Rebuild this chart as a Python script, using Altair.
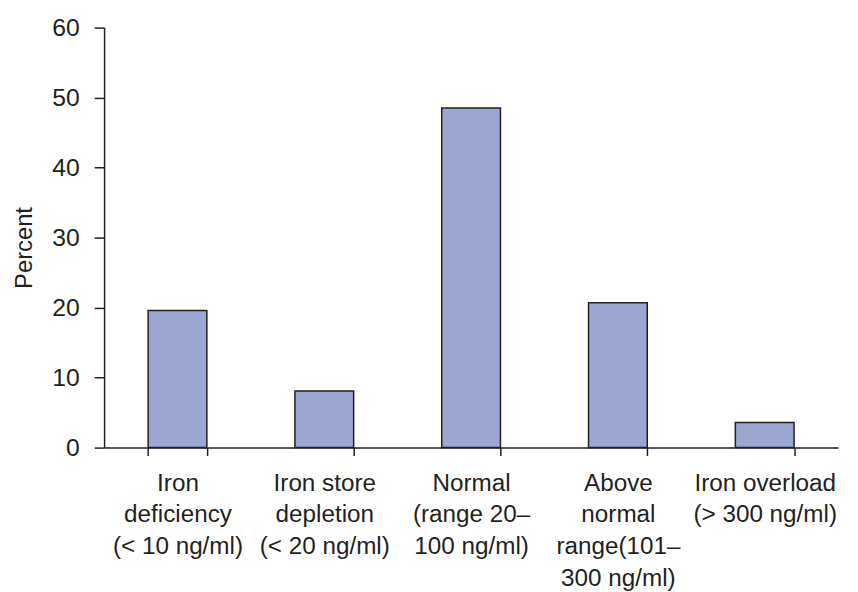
import altair as alt
import pandas as pd

categories = [
    "Iron|deficiency|(< 10 ng/ml)",
    "Iron store|depletion|(< 20 ng/ml)",
    "Normal|(range 20–|100 ng/ml)",
    "Above|normal|range(101–|300 ng/ml)",
    "Iron overload|(> 300 ng/ml)",
]
percents = [19.6, 8.1, 48.5, 20.7, 3.6]
y_ticks = [0, 10, 20, 30, 40, 50, 60]

df = pd.DataFrame({"cat": categories, "pct": percents})

FONT = "Liberation Sans"
INK = "#231F20"

chart = (
    alt.Chart(df)
    .mark_bar(fill="#9BA6D3", stroke=INK, strokeWidth=1.5)
    .encode(
        x=alt.X(
            "cat:N",
            sort=categories,
            scale=alt.Scale(paddingInner=0.6, paddingOuter=0.3),
            axis=alt.Axis(
                title=None,
                labelAngle=0,
                labelExpr="split(datum.label, '|')",
                tickBand="extent",
                tickSize=8,
                tickColor=INK,
                tickWidth=1.5,
                domainColor=INK,
                domainWidth=1.5,
                labelFont=FONT,
                labelFontSize=24.5,
                labelColor=INK,
                labelLineHeight=32,
                labelPadding=16,
                labelOverlap=False,
                labelBound=False,
                labelLimit=400,
            ),
        ),
        y=alt.Y(
            "pct:Q",
            scale=alt.Scale(domain=[0, 60], nice=False),
            axis=alt.Axis(
                title="Percent",
                values=y_ticks,
                grid=False,
                tickSize=10,
                tickColor=INK,
                tickWidth=1.5,
                domainColor=INK,
                domainWidth=1.5,
                labelFont=FONT,
                labelFontSize=25,
                labelColor=INK,
                labelPadding=15,
                titleFont=FONT,
                titleFontSize=24,
                titleFontWeight="normal",
                titleColor=INK,
                titleX=-73,
                titleY=222,
                titleBaseline="alphabetic",
                titleAngle=270,
            ),
        ),
    )
    .properties(
        width=741,
        height=424,
        autosize=alt.AutoSizeParams(type="none"),
        padding={"left": 97, "top": 17, "right": 12, "bottom": 142},
    )
    .configure_view(stroke=None)
)

chart.save("out.html", embed_options={"renderer": "svg", "actions": False})
